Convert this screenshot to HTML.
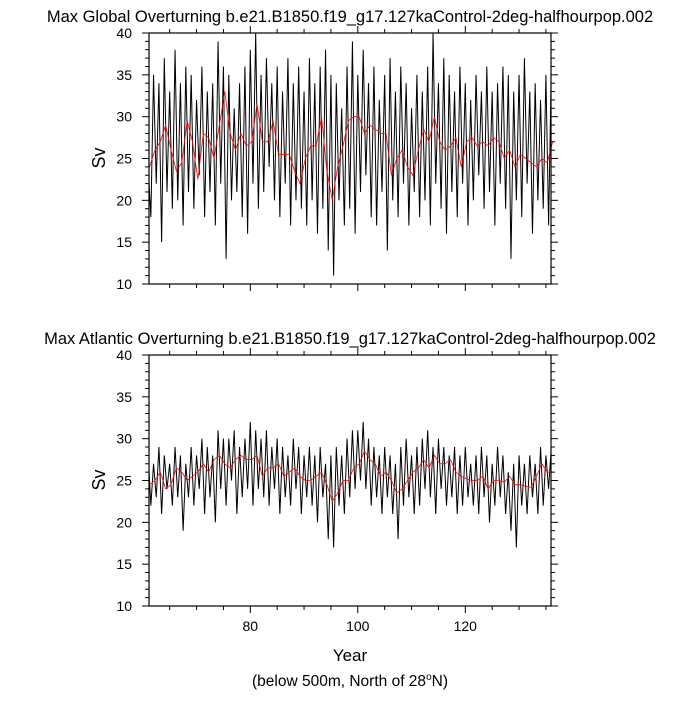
<!DOCTYPE html>
<html><head><meta charset="utf-8"><style>
body{margin:0;background:#fff}
svg text{font-family:"Liberation Sans",sans-serif;fill:#000}
</style></head><body>
<svg id="c" width="700" height="700" xmlns="http://www.w3.org/2000/svg">
<text x="350" y="22" font-size="16.5" text-anchor="middle">Max Global Overturning b.e21.B1850.f19_g17.127kaControl-2deg-halfhourpop.002</text>
<text x="350" y="344" font-size="16.5" text-anchor="middle">Max Atlantic Overturning b.e21.B1850.f19_g17.127kaControl-2deg-halfhourpop.002</text>
<text transform="translate(105,158) rotate(-90)" font-size="18" text-anchor="middle">Sv</text>
<text transform="translate(105,480) rotate(-90)" font-size="18" text-anchor="middle">Sv</text>
<text x="350" y="661" font-size="17" text-anchor="middle">Year</text>
<text x="350" y="686" font-size="15.5" text-anchor="middle">(below 500m, North of 28<tspan font-size="10" dy="-6">o</tspan><tspan dy="6">N)</tspan></text>
</svg>
<script>
const years = [];
for (let y = 61; y <= 136; y++) years.push(y);
const xTickLabels = [80, 100, 120];
const yTickLabels = [10, 15, 20, 25, 30, 35, 40];
// [high, low] per year
const globalRaw = [24,18,35,22,34,15,37,21,33,19,38,20,34,17,36,21,35,19,32,23,36,18,33,21,34,17,39,22,36,13,35,20,31,21,34,18,36,16,38,22,40,19,35,21,37,24,34,20,36,18,33,22,37,17,34,20,36,19,33,17,37,20,34,16,36,19,38,14,35,11,34,20,31,17,36,19,39,16,35,21,38,23,34,18,36,17,32,21,35,14,37,20,33,18,36,22,34,17,31,21,35,18,33,20,36,17,40,22,34,19,37,16,35,21,33,18,36,22,34,17,32,20,35,23,33,19,36,21,33,17,34,22,36,19,35,13,33,20,35,18,37,22,33,16,34,20,32,19,35,17,36,27];
const globalMean = [24,26,27,29,26,23.5,24.5,29.5,27,22.5,28,27.5,25,29,33,28,26,28,26.5,27,31.5,27,27,29.5,25.5,25.5,25.5,23.5,22,25,26.5,26.5,30,23.5,20,24,26.5,29.5,30,30,28,29,28.5,28,28,23,25,26,24,23,26,28.5,27,30,27,26,26.5,27.5,24,27,27.5,26.5,27,26.5,27.5,27,25,26,24,25.5,25,24.5,24,25,24.5,27];
const atlRaw = [28,22,27,23,29,21,28,24,27,22,29,23,28,19,27,23,29,22,28,24,30,21,29,23,28,20,31,24,30,22,30,25,31,21,29,23,30,24,32,22,31,24,30,23,31,22,29,24,30,21,29,23,28,22,30,24,29,21,28,23,29,22,28,20,29,23,27,18,28,17,29,22,28,21,30,23,31,24,31,25,32,24,30,22,29,23,28,21,29,23,28,21,27,18,29,22,30,23,28,21,29,22,30,24,31,23,29,21,30,24,29,22,28,23,29,21,28,22,29,23,27,22,28,21,29,23,28,20,27,22,29,23,28,21,26,19,27,17,28,22,27,21,28,23,27,21,29,22,28,24,29,26];
const atlMean = [24.5,25,26,24,24.5,26.5,26,25,25.5,26,27,26,27.5,28,27,26.5,27.5,28,27.5,27.5,28,25.5,26.5,26.5,27,25.5,26,26.5,25.5,25,25,25.5,26,24.5,22.5,23.5,25,25,26.5,27,28.5,27.5,27,25.5,26,25,23.5,24,25,26,26.5,27.5,26.5,28,27,27,27.5,26,25.5,25.2,25,25,25.5,24,25,25,24.8,25.5,24.5,24.5,24.3,24.2,25.5,27,26,26];

const NS = "http://www.w3.org/2000/svg";
const svg = document.getElementById('c');
const L = 149, R = 551;
const xs = yr => 250.3 + (yr - 80) * 5.375;
function mk(tag, attrs, parent) {
  const e = document.createElementNS(NS, tag);
  for (const k in attrs) e.setAttribute(k, attrs[k]);
  (parent || svg).appendChild(e);
  return e;
}
function panel(top, bottom, raw, mean, key, showX) {
  const ys = v => bottom - (v - 10) * (bottom - top) / 30;
  const g = mk('g', {});
  
  
  const defs = mk('clipPath', {id: 'clip-' + key}, g);
  mk('rect', {x: L, y: top, width: R - L, height: bottom - top}, defs);
  let d = '';
  for (let i = 0; i < raw.length; i++) {
    const yr = years[Math.floor(i / 2)] + (i % 2) * 0.5;
    d += (i ? 'L' : 'M') + xs(yr).toFixed(2) + ',' + ys(raw[i]).toFixed(2);
  }
  const p = mk('path', {d: d, fill: 'none', stroke: '#000', 'stroke-width': 1, 'clip-path': 'url(#clip-' + key + ')'}, g);
  
  
  let d2 = '';
  mean.forEach((v, i) => { d2 += (i ? 'L' : 'M') + xs(years[i] + 0.25).toFixed(2) + ',' + ys(v).toFixed(2); });
  const p2 = mk('path', {d: d2, fill: 'none', stroke: '#f00', 'stroke-width': 0.8}, g);
  
  
  const f = mk('rect', {x: L, y: top, width: R - L, height: bottom - top, fill: 'none', stroke: '#000', 'stroke-width': 1.2}, g);
  
  
  for (let v = 10; v <= 40; v++) {
    const y = ys(v), len = v % 5 === 0 ? 7 : 4;
    mk('line', {x1: L - len, x2: L, y1: y, y2: y, stroke: '#000', 'stroke-width': 1}, g);
    mk('line', {x1: R, x2: R + len, y1: y, y2: y, stroke: '#000', 'stroke-width': 1}, g);
  }
  yTickLabels.forEach(v => {
    const t = mk('text', {x: L - 17, y: ys(v) + 5, 'font-size': 14, 'text-anchor': 'end'}, g);
    t.textContent = v;
    
    
  });
  for (let yr = 65; yr <= 135; yr += 5) {
    const x = xs(yr), len = yr % 20 === 0 ? 7 : 4;
    mk('line', {x1: x, x2: x, y1: bottom, y2: bottom + len, stroke: '#000', 'stroke-width': 1}, g);
    mk('line', {x1: x, x2: x, y1: top - len, y2: top, stroke: '#000', 'stroke-width': 1}, g);
  }
  if (showX) xTickLabels.forEach(v => {
    const t = mk('text', {x: xs(v), y: bottom + 25, 'font-size': 14, 'text-anchor': 'middle'}, g);
    t.textContent = v;
    
    
  });
}
panel(33, 284, globalRaw, globalMean, 'global', false);
panel(355, 606, atlRaw, atlMean, 'atlantic', true);
</script>
</body></html>
